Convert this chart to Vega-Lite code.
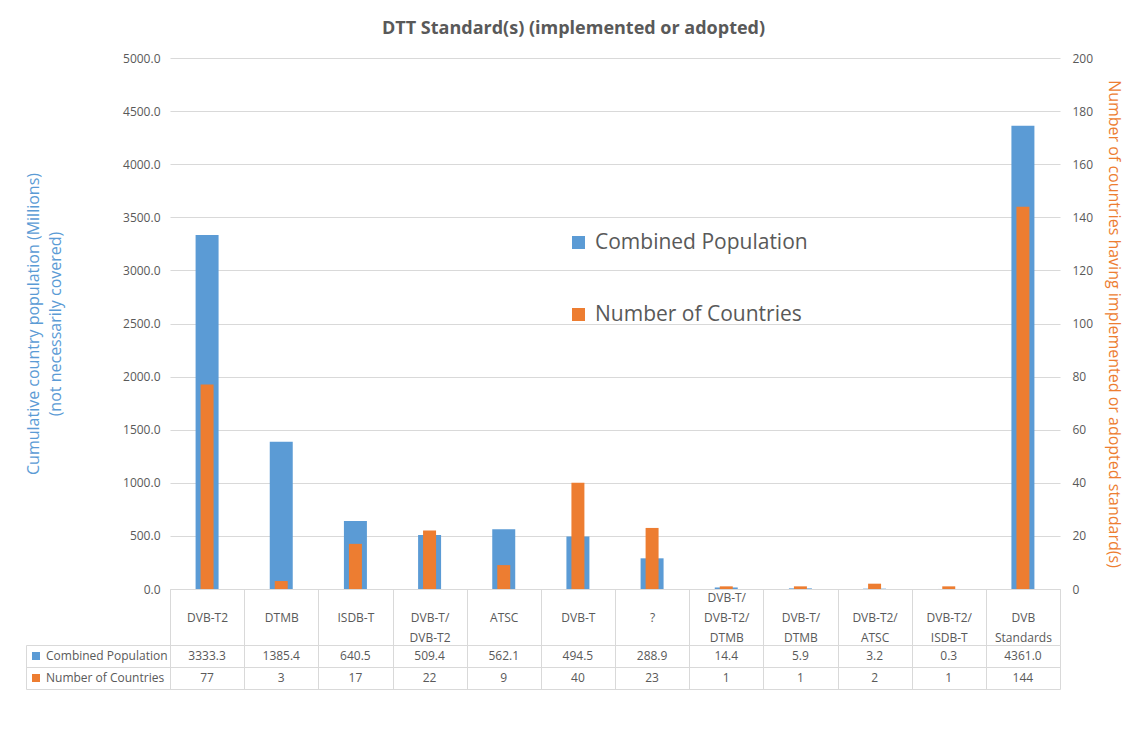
{
  "$schema": "https://vega.github.io/schema/vega-lite/v6.json",
  "padding": {"left": 25, "top": 20, "right": 5, "bottom": 5},
  "background": "white",
  "title": {"text": "DTT Standard(s) (implemented or adopted)", "fontSize": 18, "fontWeight": "bold", "color": "#595959", "anchor": "middle", "offset": 14},
  "config": {
    "font": "Open Sans",
    "view": {"stroke": null},
    "axis": {"labelColor": "#595959", "labelFontSize": 12, "gridColor": "#d9d9d9", "domainColor": "#d9d9d9", "tickColor": "#d9d9d9"}
  },
  "datasets": {
    "rows": [
      {"standard": "DVB-T2", "series": "Combined Population", "value": 3333.3},
      {"standard": "DTMB", "series": "Combined Population", "value": 1385.4},
      {"standard": "ISDB-T", "series": "Combined Population", "value": 640.5},
      {"standard": "DVB-T/DVB-T2", "series": "Combined Population", "value": 509.4},
      {"standard": "ATSC", "series": "Combined Population", "value": 562.1},
      {"standard": "DVB-T", "series": "Combined Population", "value": 494.5},
      {"standard": "?", "series": "Combined Population", "value": 288.9},
      {"standard": "DVB-T/DVB-T2/DTMB", "series": "Combined Population", "value": 14.4},
      {"standard": "DVB-T/DTMB", "series": "Combined Population", "value": 5.9},
      {"standard": "DVB-T2/ATSC", "series": "Combined Population", "value": 3.2},
      {"standard": "DVB-T2/ISDB-T", "series": "Combined Population", "value": 0.3},
      {"standard": "DVB Standards", "series": "Combined Population", "value": 4361.0},
      {"standard": "DVB-T2", "series": "Number of Countries", "value": 77},
      {"standard": "DTMB", "series": "Number of Countries", "value": 3},
      {"standard": "ISDB-T", "series": "Number of Countries", "value": 17},
      {"standard": "DVB-T/DVB-T2", "series": "Number of Countries", "value": 22},
      {"standard": "ATSC", "series": "Number of Countries", "value": 9},
      {"standard": "DVB-T", "series": "Number of Countries", "value": 40},
      {"standard": "?", "series": "Number of Countries", "value": 23},
      {"standard": "DVB-T/DVB-T2/DTMB", "series": "Number of Countries", "value": 1},
      {"standard": "DVB-T/DTMB", "series": "Number of Countries", "value": 1},
      {"standard": "DVB-T2/ATSC", "series": "Number of Countries", "value": 2},
      {"standard": "DVB-T2/ISDB-T", "series": "Number of Countries", "value": 1},
      {"standard": "DVB Standards", "series": "Number of Countries", "value": 144}
    ]
  },
  "bounds": "flush",
  "spacing": 56,
  "resolve": {"legend": {"color": "independent"}},
  "vconcat": [
    {
      "width": 890,
      "height": 531,
      "data": {"name": "rows"},
      "encoding": {
        "x": {
          "field": "standard", "type": "nominal", "sort": null,
          "scale": {"paddingInner": 0, "paddingOuter": 0},
          "axis": {
            "title": null, "domain": true, "ticks": true, "tickBand": "extent", "tickSize": 56,
            "labelExpr": "length(split(replace(replace(datum.label, regexp('/', 'g'), '/~'), ' ', '~'), '~')) === 3 ? [split(replace(datum.label, regexp('/', 'g'), '/~'), '~')[0], '\u00a0', split(replace(datum.label, regexp('/', 'g'), '/~'), '~')[1], '\u00a0', split(replace(datum.label, regexp('/', 'g'), '/~'), '~')[2]] : length(split(replace(replace(datum.label, regexp('/', 'g'), '/~'), ' ', '~'), '~')) === 2 ? ['\u00a0', split(replace(replace(datum.label, regexp('/', 'g'), '/~'), ' ', '~'), '~')[0], '\u00a0', split(replace(replace(datum.label, regexp('/', 'g'), '/~'), ' ', '~'), '~')[1], '\u00a0'] : ['\u00a0', '\u00a0', datum.label, '\u00a0', '\u00a0']",
            "labelBaseline": "middle", "labelAngle": 0, "labelLineHeight": 20,
            "labelPadding": -48,
            "labelOverlap": false, "labelBound": false
          }
        },
        "color": {
          "field": "series", "type": "nominal",
          "scale": {"domain": ["Combined Population", "Number of Countries"], "range": ["#5B9BD5", "#ED7D31"]},
          "legend": {
            "title": null, "orient": "none", "legendX": 398, "legendY": 174, "padding": 0,
            "symbolType": "square", "symbolSize": 169, "symbolStrokeWidth": 0,
            "labelFontSize": 21, "labelColor": "#595959", "rowPadding": 50, "labelOffset": 6, "labelLimit": 400
          }
        }
      },
      "layer": [
        {
          "transform": [{"filter": "datum.series === 'Combined Population'"}],
          "mark": {"type": "bar", "width": {"band": 0.31}},
          "encoding": {
            "y": {
              "field": "value", "type": "quantitative",
              "scale": {"domain": [0, 5000], "nice": false},
              "axis": {
                "title": ["Cumulative country population (Millions)", "(not necessarily covered)"],
                "titleColor": "#5B9BD5", "titleFontSize": 16, "titleFontWeight": "normal", "titleLineHeight": 22,
                "format": ".1f", "values": [0, 500, 1000, 1500, 2000, 2500, 3000, 3500, 4000, 4500, 5000],
                "grid": true, "domain": false, "ticks": false, "labelPadding": 10, "titlePadding": 59
              }
            }
          }
        },
        {
          "transform": [{"filter": "datum.series === 'Number of Countries'"}],
          "mark": {"type": "bar", "width": {"band": 0.175}},
          "encoding": {
            "y": {
              "field": "value", "type": "quantitative",
              "scale": {"domain": [0, 200], "nice": false},
              "axis": {
                "orient": "right",
                "title": "Number of countries having implemented or adopted standard(s)",
                "titleColor": "#ED7D31", "titleFontSize": 16, "titleFontWeight": "normal",
                "format": "d", "values": [0, 20, 40, 60, 80, 100, 120, 140, 160, 180, 200],
                "grid": false, "domain": false, "ticks": false, "labelPadding": 12, "titlePadding": 13
              }
            }
          }
        }
      ],
      "resolve": {"scale": {"y": "independent"}}
    },
    {
      "width": 890,
      "height": 44,
      "data": {"name": "rows"},
      "transform": [
        {"calculate": "datum.series === 'Combined Population' ? format(datum.value, '.1f') : format(datum.value, 'd')", "as": "label"}
      ],
      "encoding": {
        "x": {
          "field": "standard", "type": "nominal", "sort": null,
          "scale": {"paddingInner": 0, "paddingOuter": 0},
          "axis": {"title": null, "labels": false, "ticks": false, "domain": false, "grid": true, "tickBand": "extent"}
        },
        "y": {
          "field": "series", "type": "nominal", "sort": ["Combined Population", "Number of Countries"],
          "scale": {"paddingInner": 0, "paddingOuter": 0},
          "axis": {
            "title": null, "labels": false, "orient": "left", "offset": 144,
            "domain": true, "ticks": true, "tickSize": -1034, "tickBand": "extent", "grid": false
          }
        }
      },
      "layer": [
        {
          "mark": {"type": "text", "fontSize": 12, "color": "#595959", "baseline": "middle", "align": "center"},
          "encoding": {"text": {"field": "label", "type": "nominal"}}
        },
        {
          "mark": {"type": "point", "shape": "square", "filled": true, "opacity": 0},
          "encoding": {
            "color": {
              "field": "series", "type": "nominal",
              "scale": {"domain": ["Combined Population", "Number of Countries"], "range": ["#5B9BD5", "#ED7D31"]},
              "legend": {
                "title": null, "orient": "none", "legendX": -140, "legendY": 5, "padding": 0,
                "symbolType": "square", "symbolSize": 64, "symbolOpacity": 1, "symbolStrokeWidth": 0,
                "labelFontSize": 12, "labelColor": "#595959", "rowPadding": 10, "labelOffset": 4, "labelLimit": 200
              }
            }
          }
        }
      ]
    }
  ]
}
